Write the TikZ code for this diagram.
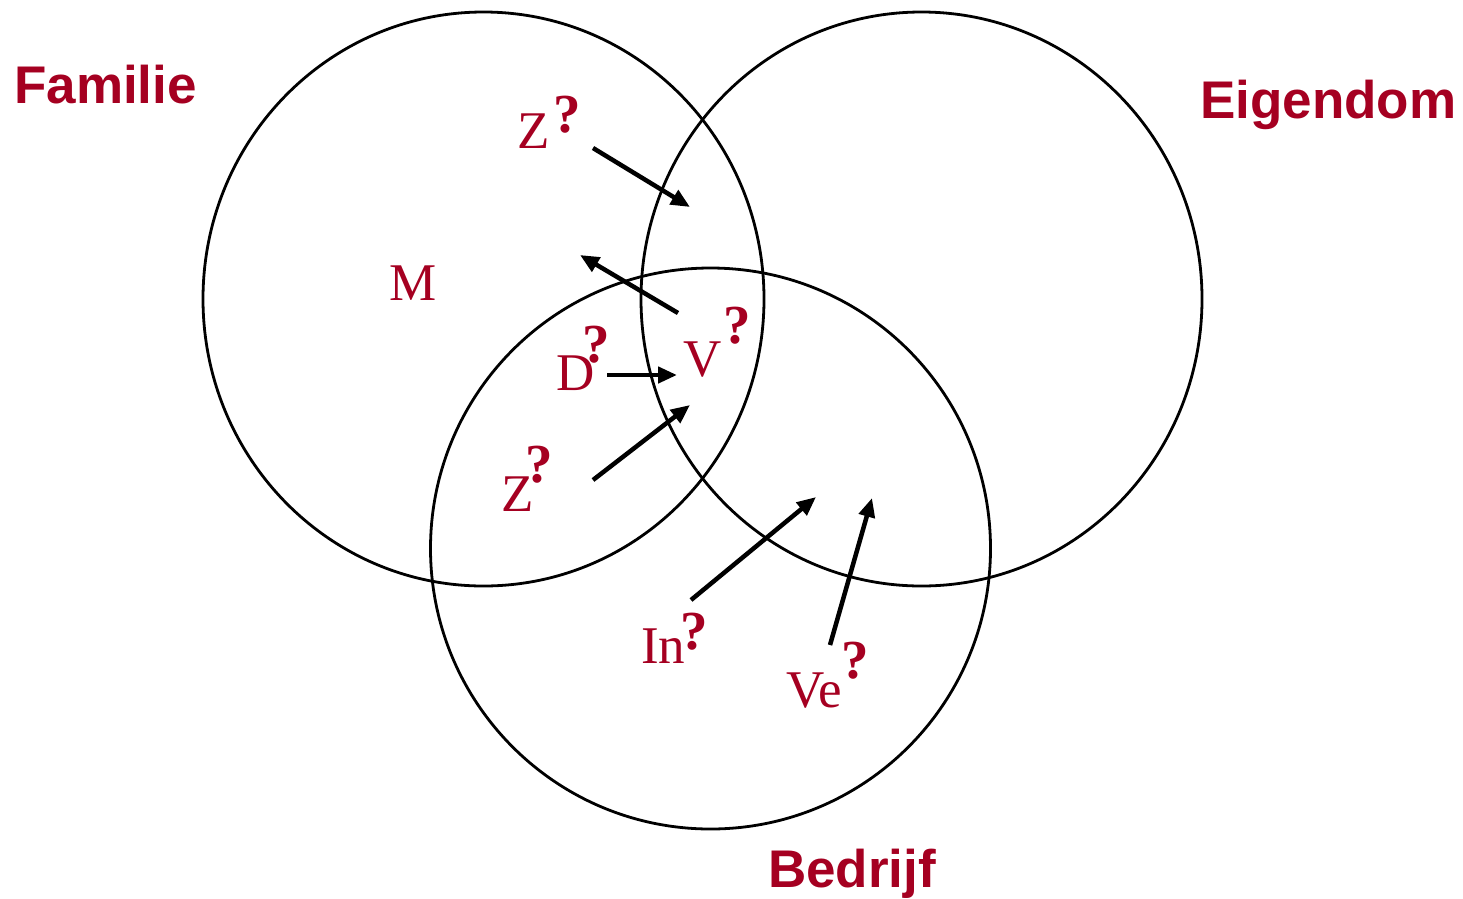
\documentclass[tikz,border=0pt]{standalone}
\usepackage{fontspec}
\setmainfont{Liberation Serif}
\setsansfont{Liberation Sans}
\usetikzlibrary{arrows.meta}
\definecolor{dred}{RGB}{165,0,33}
\tikzset{
  venn/.style={draw=black, line width=2.8pt},
  title/.style={font=\sffamily\bfseries\fontsize{53}{60}\selectfont, text=dred, inner sep=0pt, anchor=base west},
  lab/.style={font=\fontsize{53}{60}\selectfont, text=dred, inner sep=0pt, anchor=base west},
  arr/.style={line width=4.5pt, -{Triangle[length=19pt,width=16pt]}}
}
\newcommand{\qm}[2]{\kern#1pt\raisebox{#2pt}{\bfseries\fontsize{55}{60}\selectfont ?}}
\begin{document}
\begin{tikzpicture}[x=1pt,y=-1pt]
\useasboundingbox (0,0) rectangle (1463,898);
% circles
\draw[venn] (483.5,299) ellipse [x radius=280.5, y radius=287];
\draw[venn] (921.5,299) ellipse [x radius=280.5, y radius=287];
\draw[venn] (710.5,548.5) ellipse [x radius=280, y radius=280.5];
% titles
\node[title] (fam) at (14,103) {Familie};
\node[title] (eig) at (1200,118) {Eigendom};
\node[title] (bed) at (768,887) {Bedrijf};
% labels
\node[lab] (z1) at (517,148) {Z\qm{4}{16}};
\node[lab] (m) at (389,300) {M};
\node[lab] (d) at (556,390) {D\qm{-12}{28}};
\node[lab] (v) at (683,376) {V\qm{2}{33}};
\node[lab] (z2) at (501,511) {Z\qm{-8}{29}};
\node[lab] (in) at (641,663) {In\qm{-5}{14}};
\node[lab] (ve) at (786,707) {Ve\qm{-1}{29}};
% arrow coordinates
\coordinate (a1s) at (593,148); \coordinate (a1e) at (690,207);
\coordinate (a2s) at (678,313); \coordinate (a2e) at (580,255);
\coordinate (a3s) at (607,375); \coordinate (a3e) at (677,375);
\coordinate (a4s) at (593,480); \coordinate (a4e) at (690,405);
\coordinate (a5s) at (691,600); \coordinate (a5e) at (816,497);
\coordinate (a6s) at (830,645); \coordinate (a6e) at (872,498);
\draw[arr] (a1s) -- (a1e);
\draw[arr] (a2s) -- (a2e);
\draw[arr] (a3s) -- (a3e);
\draw[arr] (a4s) -- (a4e);
\draw[arr] (a5s) -- (a5e);
\draw[arr] (a6s) -- (a6e);
\end{tikzpicture}
\end{document}
